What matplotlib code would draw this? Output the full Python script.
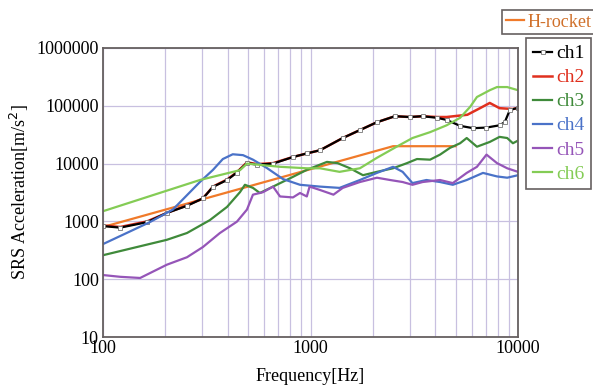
import matplotlib.pyplot as plt
from matplotlib.ticker import FixedLocator, NullFormatter

plt.rcParams['font.family'] = ['Liberation Serif', 'DejaVu Serif']

# H-rocket spec line
hr_f = [100, 2500, 5000]
hr_v = [800, 20000, 20000]

# ch1 (black, markers) and ch2 (red) share the low part
ch1_f = [100, 121, 163, 203, 254, 303, 339, 396, 442, 494, 553, 660, 823, 960,
         1110, 1430, 1730, 2090, 2550, 3010, 3470, 4070, 4530, 5260, 6080, 7050,
         8150, 8630, 9140, 10000]
ch1_v = [830, 780, 970, 1400, 1860, 2500, 3970, 5200, 7000, 10200, 9600, 10000,
         13000, 15000, 17000, 27700, 38000, 52000, 66000, 64000, 66000, 62000,
         57000, 45000, 41000, 42000, 46000, 52000, 85000, 92000]
ch2_f = [100, 121, 163, 203, 254, 303, 339, 396, 442, 494, 553, 660, 823, 960,
         1110, 1430, 1730, 2090, 2550, 3010, 3470, 4070, 4530, 5700, 6560, 7310,
         8150, 9450, 10000]
ch2_v = [850, 800, 1000, 1400, 1900, 2500, 4000, 5300, 7100, 10500, 9800, 10200,
         13000, 15000, 17000, 27700, 38000, 52000, 66000, 64000, 66000, 64000,
         64000, 70000, 91000, 112000, 91000, 88000, 92000]
ch3_f = [100, 203, 254, 327, 396, 457, 483, 528, 570, 660, 823, 960, 1200, 1350,
         1550, 1790, 2090, 2500, 2920, 3260, 3770, 4210, 4700, 5260, 5660, 6340,
         7310, 8150, 8870, 9450, 10000]
ch3_v = [260, 480, 630, 1050, 1780, 3200, 4300, 3800, 3100, 4000, 5900, 7800,
         10700, 10200, 8300, 6300, 7200, 8300, 10200, 12000, 11700, 14300, 18700,
         22500, 27700, 19600, 23700, 29000, 27700, 22500, 25000]
ch4_f = [100, 168, 217, 293, 339, 378, 422, 473, 528, 616, 737, 890, 1110, 1380,
         1730, 2090, 2500, 2780, 3100, 3620, 4210, 4850, 5660, 6780, 7920, 8870,
         10000]
ch4_v = [405, 970, 1600, 4800, 7800, 12000, 14500, 14000, 11700, 8400, 5400,
         4300, 4000, 3800, 5200, 6900, 8800, 7200, 4600, 5200, 4800, 4300, 5200,
         6900, 6000, 5700, 6300]
ch5_f = [100, 121, 151, 203, 254, 303, 366, 442, 494, 528, 590, 660, 713, 823,
         890, 960, 990, 1110, 1290, 1430, 1730, 2090, 2420, 2780, 3100, 3470,
         4210, 4850, 5660, 6340, 7050, 7920, 8870, 10000]
ch5_v = [118, 110, 105, 178, 240, 360, 630, 990, 1600, 2900, 3200, 4000, 2700,
         2600, 3100, 2700, 4000, 3500, 2900, 3800, 4800, 5700, 5200, 4800, 4300,
         4800, 5200, 4600, 6900, 8800, 14300, 10200, 8300, 7200]
ch6_f = [100, 293, 457, 494, 713, 960, 1110, 1380, 1730, 2090, 2600, 3100, 3770,
         4530, 5260, 5880, 6340, 7310, 7920, 8870, 10000]
ch6_v = [1500, 5200, 7700, 10000, 8800, 8300, 8300, 7200, 8300, 12600, 19600,
         27700, 35000, 46000, 62000, 96000, 142000, 186000, 211000, 211000, 186000]

fig = plt.figure(figsize=(5.93, 3.85), dpi=100)
ax = fig.add_axes([103/593, 1-337/385, 415/593, 289/385])

h_hr, = ax.plot(hr_f, hr_v, color='#f07a2a', lw=1.6, label='H-rocket')
h2, = ax.plot(ch2_f, ch2_v, color='#e0301e', lw=1.8, label='ch2')
h1, = ax.plot(ch1_f, ch1_v, color='black', lw=1.6, marker='s', ms=3,
              mfc='white', mec='#777777', mew=0.6, label='ch1')
h3, = ax.plot(ch3_f, ch3_v, color='#3f8a3a', lw=1.6, label='ch3')
h4, = ax.plot(ch4_f, ch4_v, color='#4a72c8', lw=1.6, label='ch4')
h5, = ax.plot(ch5_f, ch5_v, color='#9555b8', lw=1.6, label='ch5')
h6, = ax.plot(ch6_f, ch6_v, color='#84cc55', lw=1.6, label='ch6')

ax.set_xscale('log')
ax.set_yscale('log')
ax.set_xlim(100, 10000)
ax.set_ylim(10, 1000000)
ax.xaxis.set_major_locator(FixedLocator([100, 1000, 10000]))
ax.xaxis.set_minor_formatter(NullFormatter())
ax.yaxis.set_major_locator(FixedLocator([10, 100, 1000, 10000, 100000, 1000000]))
ax.yaxis.set_minor_locator(FixedLocator([]))
ax.set_xticklabels(['100', '1000', '10000'])
ax.set_yticklabels(['10', '100', '1000', '10000', '100000', '1000000'])
ax.grid(True, which='both', axis='x', color='#c8c0e0', lw=0.9)
ax.grid(True, which='major', axis='y', color='#c8c0e0', lw=0.9)
ax.tick_params(which='both', length=0, labelsize=13)
ax.tick_params(axis='x', pad=2)
ax.tick_params(axis='y', pad=3)
for s in ax.spines.values():
    s.set_color('#666060')
    s.set_linewidth(1.3)

ax.set_xlabel('Frequency[Hz]', fontsize=13, labelpad=8)
ax.set_ylabel('SRS Acceleration[m/s$^2$]', fontsize=13, labelpad=4)

leg1 = fig.legend([h_hr], ['H-rocket'], loc='upper left',
                  bbox_to_anchor=(502/593, 1-10/385), borderaxespad=0,
                  fontsize=13, handlelength=1.0, handletextpad=0.2,
                  borderpad=0.2, fancybox=False, edgecolor='#666060',
                  framealpha=1)
leg1.get_frame().set_linewidth(1.2)
leg1.get_texts()[0].set_color('#d0702a')

leg2 = fig.legend([h1, h2, h3, h4, h5, h6], ['ch1', 'ch2', 'ch3', 'ch4', 'ch5', 'ch6'],
                  loc='upper left', bbox_to_anchor=(526/593, 1-38/385),
                  borderaxespad=0, fontsize=14, handlelength=1.0,
                  handletextpad=0.2, labelspacing=0.33, borderpad=0.35,
                  fancybox=False, edgecolor='#666060', framealpha=1)
leg2.get_frame().set_linewidth(1.2)
for t, c in zip(leg2.get_texts(),
                ['black', '#e0301e', '#3f8a3a', '#4a72c8', '#9555b8', '#84cc55']):
    t.set_color(c)

fig.savefig('out.png', dpi=100)
